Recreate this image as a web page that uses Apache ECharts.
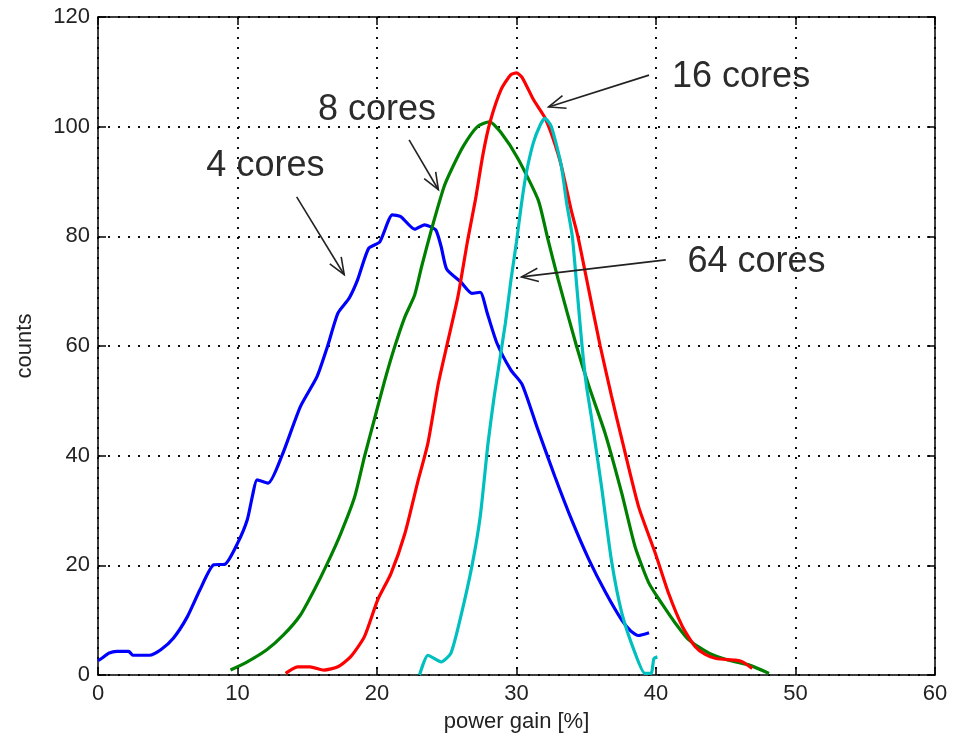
<!DOCTYPE html>
<html>
<head>
<meta charset="utf-8">
<script src="https://cdn.jsdelivr.net/npm/echarts@6/dist/echarts.min.js"></script>
<style>
  html, body { margin: 0; padding: 0; background: #fff; }
  #chart { width: 957px; height: 738px; }
</style>
</head>
<body>
<div id="chart"></div>
<script>
// values: [power gain %, counts]
const fourCores = [
  [0, 2.6], [0.3, 3.1], [0.8, 4.0], [1.35, 4.3], [2.2, 4.3], [2.5, 3.6], [3.7, 3.6],
  [4.5, 4.6], [5.4, 6.7], [6.4, 10.6], [7.3, 15.5], [8.3, 20.1], [9.1, 20.2], [10.0, 24],
  [10.7, 28.3], [11.1, 33], [11.4, 35.6], [12.2, 35], [13.2, 40.1], [14.5, 48.9],
  [15.7, 54.4], [16.45, 59.9], [17.2, 66], [18.0, 68.7], [18.6, 72], [19.4, 77.8],
  [20.2, 79], [21.1, 83.9], [21.7, 83.6], [22.7, 81.3], [23.4, 82.1], [24.2, 81.2],
  [24.6, 78.1], [25.0, 74], [26.0, 71.7], [26.8, 69.6], [27.4, 69.8], [27.9, 66],
  [28.6, 60.5], [29.6, 55.6], [30.4, 53], [31.5, 45], [32.75, 36.2], [34.0, 28],
  [35.2, 21], [36.4, 15], [37.55, 10], [38.2, 8], [38.75, 7.2], [39.5, 7.7]
];
const eightCores = [
  [9.5, 0.9], [10.7, 2.4], [12.1, 4.6], [13.3, 7.3], [14.5, 10.9], [15.5, 15.5],
  [16.45, 20.4], [17.4, 25.8], [18.4, 32.5], [19.1, 39.8], [19.8, 46.5], [20.5, 53.2],
  [21.2, 59.3], [22.0, 65.3], [22.7, 69.3], [23.2, 74.5], [23.9, 81.2], [24.8, 89],
  [25.4, 92.5], [26.2, 96.5], [27.2, 100], [28.06, 100.9], [28.9, 98.9], [30.1, 94.2],
  [31.56, 86.6], [32.2, 80], [33.0, 72], [34.3, 60], [35.2, 52.6], [36.35, 44.1],
  [37.55, 33.1], [38.5, 23.4], [39.5, 16.7], [40.4, 13.1], [41.4, 9.4], [42.35, 6.4],
  [43.8, 4], [45.2, 2.7], [46.7, 1.8], [48.1, 0.3]
];
const sixteenCores = [
  [13.45, 0.3], [14.3, 1.5], [15.2, 1.5], [16.2, 0.9], [17.2, 1.5], [18.1, 3.3],
  [19.1, 7], [20.05, 13.7], [21.0, 18.5], [22.0, 25.8], [22.9, 35], [23.65, 42.3],
  [24.4, 53.2], [25.1, 61.1], [25.8, 69], [26.5, 79.3], [27.05, 86.6], [27.6, 95],
  [28.1, 100.8], [28.9, 106.8], [29.6, 109.5], [30.0, 109.8], [30.4, 109], [31.2, 105],
  [32.0, 101.8], [32.6, 98], [33.2, 93], [33.9, 85], [34.4, 80], [35.2, 70], [36.0, 60],
  [36.8, 51], [37.55, 43], [38.75, 30.7], [39.95, 22.2], [40.9, 14.9], [41.9, 8.8],
  [42.8, 5.2], [43.5, 3.8], [44.3, 3], [45.7, 2.7], [46.2, 2.4], [46.9, 1.2]
];
const sixtyFourCores = [
  [23.05, 0], [23.65, 3.6], [24.6, 2.4], [25.3, 4], [26.0, 10.6], [26.8, 19.8],
  [27.4, 28.9], [27.96, 42.3], [28.4, 50.8], [29.2, 64.1], [29.6, 72], [30.0, 79],
  [30.36, 86], [30.7, 91.5], [31.2, 97], [31.7, 100.3], [32.04, 101.5], [32.5, 100],
  [33.2, 93], [33.6, 86], [34.0, 80], [34.35, 70], [34.7, 60], [35.0, 53], [35.4, 46.5],
  [36.1, 34.3], [36.8, 21], [37.55, 11.3], [38.5, 4], [39.2, 0.3], [39.65, 0.3],
  [39.85, 3], [40.1, 3.3]
];

// text labels with arrows, in data coordinates
const notes = [
  { text: '4 cores', at: [12.0, 92.8], from: [14.24, 87.2], to: [17.65, 73] },
  { text: '8 cores', at: [20.0, 103.0], from: [22.3, 97.6], to: [24.4, 88.5] },
  { text: '16 cores', at: [46.1, 109.1], from: [39.5, 109.4], to: [32.3, 103.6] },
  { text: '64 cores', at: [47.2, 75.3], from: [40.7, 75.7], to: [30.36, 72.6] }
];

const font = "'Liberation Sans', Arial, sans-serif";
const ink = '#222';

const chart = echarts.init(document.getElementById('chart'));

function boxAxis(extra) {
  return Object.assign({
    type: 'value',
    axisLine: { show: true, onZero: false, lineStyle: { color: '#000', width: 1.5 } },
    axisTick: { show: true, inside: true, length: 8, lineStyle: { color: '#000', width: 1.5 } },
    axisLabel: { show: false },
    splitLine: { show: false }
  }, extra);
}

const gridLine = { show: true, lineStyle: { color: '#111', width: 2, type: [2, 8] } };
const tickLabel = { show: true, fontFamily: font, fontSize: 22, color: ink };

const option = {
  animation: false,
  backgroundColor: '#fff',
  grid: { left: 98, top: 17, right: 22, bottom: 63, containLabel: false },
  xAxis: [
    boxAxis({
      min: 0, max: 60, interval: 10, position: 'bottom',
      axisLabel: Object.assign({ margin: 8 }, tickLabel),
      splitLine: gridLine,
      name: 'power gain [%]', nameLocation: 'middle', nameGap: 36,
      nameTextStyle: { fontFamily: font, fontSize: 22, color: ink }
    }),
    boxAxis({ min: 0, max: 60, interval: 10, position: 'top' })
  ],
  yAxis: [
    boxAxis({
      min: 0, max: 120, interval: 20, position: 'left',
      axisLabel: Object.assign({ margin: 8 }, tickLabel),
      splitLine: gridLine,
      name: 'counts', nameLocation: 'middle', nameGap: 62,
      nameTextStyle: { fontFamily: font, fontSize: 22, color: ink }
    }),
    boxAxis({ min: 0, max: 120, interval: 20, position: 'right' })
  ],
  series: [
    { name: '4 cores', data: fourCores, color: '#0000ff' },
    { name: '8 cores', data: eightCores, color: '#008000' },
    { name: '16 cores', data: sixteenCores, color: '#ff0000' },
    { name: '64 cores', data: sixtyFourCores, color: '#00bfbf' }
  ].map(s => ({
    type: 'line',
    name: s.name,
    data: s.data,
    showSymbol: false,
    symbol: 'none',
    smooth: 0.2,
    lineStyle: { color: s.color, width: 3.2 },
    itemStyle: { color: s.color },
    z: 3
  }))
};

chart.setOption(option);

// arrows and labels placed through the chart's own coordinate system
function px(p) {
  return chart.convertToPixel({ gridIndex: 0 }, p);
}

const graphics = [];
notes.forEach(n => {
  const a = px(n.from);
  const b = px(n.to);
  const ang = Math.atan2(b[1] - a[1], b[0] - a[0]);
  const len = 18, spread = 0.38;
  const w1 = [b[0] - len * Math.cos(ang - spread), b[1] - len * Math.sin(ang - spread)];
  const w2 = [b[0] - len * Math.cos(ang + spread), b[1] - len * Math.sin(ang + spread)];
  graphics.push({
    type: 'line', z: 10,
    shape: { x1: a[0], y1: a[1], x2: b[0], y2: b[1] },
    style: { stroke: ink, lineWidth: 1.6 }
  });
  graphics.push({
    type: 'polyline', z: 10,
    shape: { points: [w1, b, w2] },
    style: { stroke: ink, lineWidth: 1.6, fill: null }
  });
  const t = px(n.at);
  graphics.push({
    type: 'text', z: 10, x: t[0], y: t[1],
    style: {
      text: n.text, fontFamily: font, fontSize: 36, fill: '#2b2b2b',
      align: 'center', verticalAlign: 'middle'
    }
  });
});

chart.setOption({ graphic: graphics });
</script>
</body>
</html>
